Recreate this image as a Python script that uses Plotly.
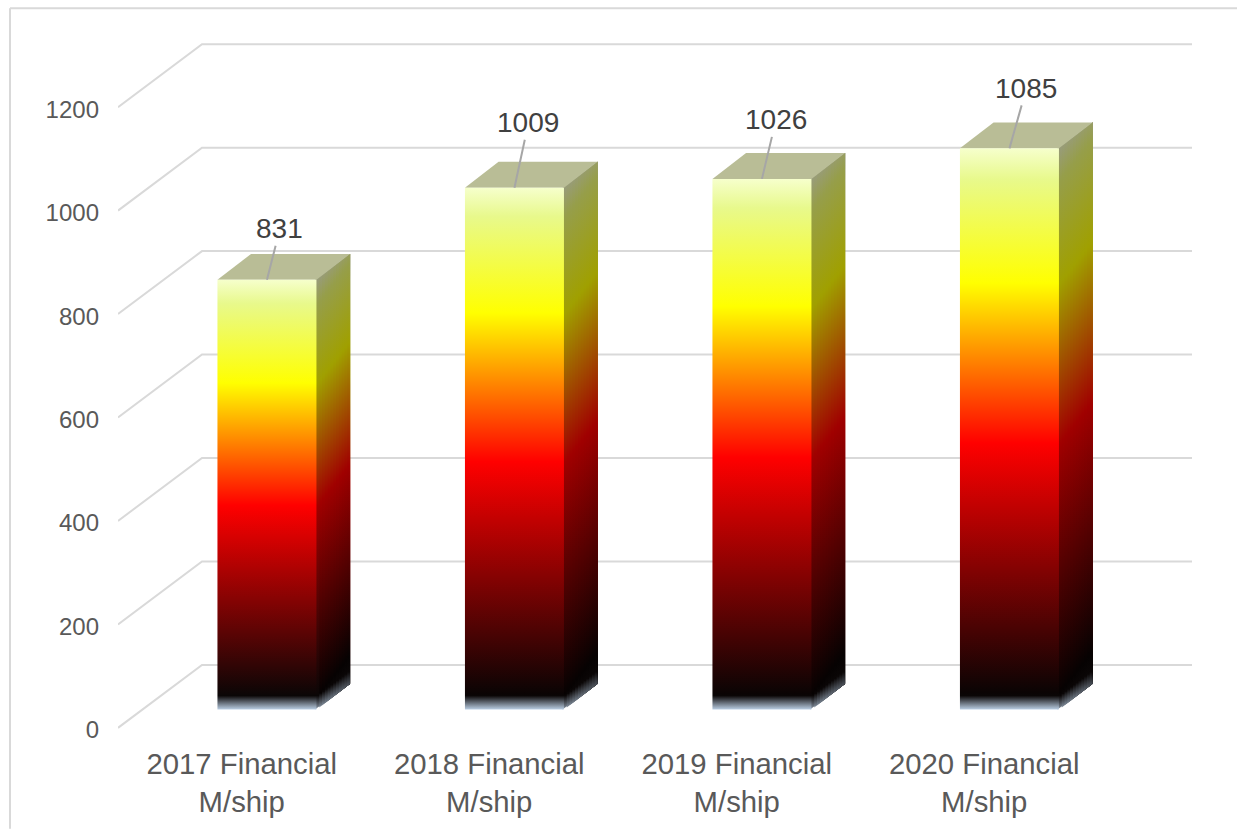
import plotly.graph_objects as go

categories = ["2017 Financial<br>M/ship", "2018 Financial<br>M/ship", "2019 Financial<br>M/ship", "2020 Financial<br>M/ship"]
membership = [831, 1009, 1026, 1085]
y_ticks = [0, 200, 400, 600, 800, 1000, 1200]

# pixel offset of each data label from the top of its bar
label_dx = [13, 14, 14, 17]
label_dy = [-51, -65, -59, -60]

# fake 3D box: the walls run back DEPTH_X / DEPTH_Y in data units
DEPTH_X = 84 / 247.5
DEPTH_Y = 63 / 0.5175
BAR_WIDTH = 0.4
BAR_FRONT = 0.29
BAR_BACK = 0.7
BAND = 27  # height of the pale strip at the foot of each bar
SIDE_SHIFT = 83  # the side shading climbs faster than the side itself
STRIPS = 12
HEADROOM = 10  # keeps the top gridline inside the plot area
FOOTROOM = 8  # keeps the nudged 0 label inside the axis range
TICK_NUDGE = 4  # tick labels sit about 2px under their gridline

GRID = "#d9d9d9"
FRONT_STOPS = [(0.03, "#0a0404"), (0.475, "#ff0000"), (0.76, "#ffff00"), (0.945, "#e8f98c"), (1, "#f6ffcc")]
SIDE_STOPS = [(0.03, "#060202"), (0.475, "#a00000"), (0.76, "#a0a000"), (0.945, "#969e4a"), (1, "#989c78")]


def blend(a, b, t):
    ca = [int(a[i:i + 2], 16) for i in (1, 3, 5)]
    cb = [int(b[i:i + 2], 16) for i in (1, 3, 5)]
    return "#" + "".join(f"{round(p + (q - p) * t):02x}" for p, q in zip(ca, cb))


def make_scale(lo, hi, foot, stops, shift, height):
    scale = [(0, foot), (BAND / (hi - lo), "#0a0606")]
    for f, c in stops:
        pos = (shift + f * height - lo) / (hi - lo)
        if scale[-1][0] < pos < 1:
            scale.append((pos, c))
    scale.append((1, stops[-1][1]))
    return scale


fig = go.Figure()

# back wall and left wall gridlines
grid_x, grid_y = [], []
for v in y_ticks:
    grid_x += [-0.5, -0.5 + DEPTH_X, 3.5 + DEPTH_X, None]
    grid_y += [v, v + DEPTH_Y, v + DEPTH_Y, None]
fig.add_trace(go.Scatter(x=grid_x, y=grid_y, mode="lines", line=dict(color=GRID, width=2),
                         cliponaxis=False, hoverinfo="skip", showlegend=False))

for i, v in enumerate(membership):
    base = BAR_FRONT * DEPTH_Y
    top = v + base
    x0 = i + 0.3 * DEPTH_X - BAR_WIDTH / 2
    x1 = x0 + BAR_WIDTH
    side_dx = (BAR_BACK - 0.3) * DEPTH_X
    side_dy = (BAR_BACK - BAR_FRONT) * DEPTH_Y

    # side face, in overlapping strips so the shading can run diagonally
    for k in range(STRIPS):
        u = k / STRIPS
        lo = base + u * side_dy
        hi = top + u * SIDE_SHIFT
        # first strip tucks under the front face to hide the seam
        sx0 = x1 + u * side_dx - (0.006 if k == 0 else 0)
        sx1 = x1 + side_dx
        foot = blend("#8a98a8", "#4a5058", u)
        fig.add_trace(go.Scatter(
            x=[sx0, sx1, sx1, sx0, sx0],
            y=[lo, base + side_dy, top + side_dy, top + u * side_dy, lo],
            mode="lines", line=dict(width=0), fill="toself",
            fillgradient=dict(type="vertical", start=lo, stop=hi,
                              colorscale=make_scale(lo, hi, foot, SIDE_STOPS, base + u * SIDE_SHIFT, v)),
            hoverinfo="skip", showlegend=False))

    # top face
    fig.add_trace(go.Scatter(
        x=[x0, x1, x1 + side_dx, x0 + side_dx, x0],
        y=[top, top, top + side_dy, top + side_dy, top],
        mode="lines", line=dict(width=0), fill="toself", fillcolor="#b9bd96",
        hoverinfo="skip", showlegend=False))

    # front face
    fig.add_trace(go.Scatter(
        x=[x0, x1, x1, x0, x0],
        y=[base, base, top, top, base],
        mode="lines", line=dict(width=0), fill="toself",
        fillgradient=dict(type="vertical", start=base, stop=top,
                          colorscale=make_scale(base, top, "#bcd0e6", FRONT_STOPS, base, v)),
        hoverinfo="skip", showlegend=False))

    fig.add_annotation(x=(x0 + x1) / 2, y=top, text=str(v), showarrow=True, arrowhead=0, arrowwidth=2,
                       arrowcolor="#a6a6a6", ax=label_dx[i], ay=label_dy[i], standoff=0,
                       font=dict(family="Liberation Sans", size=28, color="#404040"))

plot_top = 44 - HEADROOM * 0.5175
plot_bottom = 728 + FOOTROOM * 0.5175
plot_h = plot_bottom - plot_top
border_x = -108 / 1074
border_y = (plot_bottom - 8) / plot_h
fig.update_layout(
    width=1237, height=829,
    margin=dict(l=118, r=45, t=plot_top, b=829 - plot_bottom),
    paper_bgcolor="white", plot_bgcolor="white",
    font=dict(family="Liberation Sans", color="#595959"),
    xaxis=dict(range=[-0.5, 3.5 + DEPTH_X], tickmode="array", tickvals=list(range(4)), ticktext=categories,
               showgrid=False, zeroline=False, showline=False, ticks="", ticklabelstandoff=12,
               tickfont=dict(size=29.3), automargin=False),
    yaxis=dict(range=[-FOOTROOM, 1200 + DEPTH_Y + HEADROOM], tickmode="array",
               tickvals=[v - TICK_NUDGE for v in y_ticks], ticktext=[str(v) for v in y_ticks],
               showgrid=False, zeroline=False, showline=False, ticks="", ticklabelstandoff=18,
               tickfont=dict(size=24), automargin=False),
    shapes=[
        dict(type="line", xref="paper", yref="paper", x0=border_x, x1=border_x,
             y0=(plot_bottom - 829) / plot_h, y1=border_y, line=dict(color=GRID, width=2)),
        dict(type="line", xref="paper", yref="paper", x0=border_x, x1=1119 / 1074,
             y0=border_y, y1=border_y, line=dict(color=GRID, width=2)),
    ],
)

fig.write_html("out.html", config={"displayModeBar": False}, post_script="document.body.style.margin = '0';")
